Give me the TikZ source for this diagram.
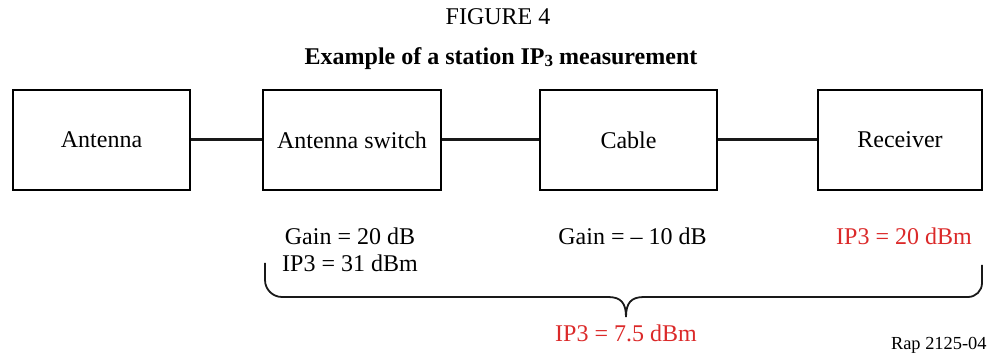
\documentclass[tikz,border=0pt]{standalone}
\usepackage{fontspec}
\setmainfont{Liberation Serif}
\definecolor{ipred}{rgb}{0.86,0.16,0.16}
\usetikzlibrary{positioning}
\tikzset{
  block/.style={rectangle, draw=black, line width=1pt, minimum height=50pt, text centered, font=\fontsize{12}{14}\selectfont},
  link/.style={line width=1.5pt, draw=black!90},
  spec/.style={anchor=base, inner sep=0pt, font=\fontsize{12}{14}\selectfont},
  result/.style={spec, text=ipred},
  bracket/.style={line width=0.9pt, draw=black!90}
}

\begin{document}
\begin{tikzpicture}[x=0.5pt, y=-0.5pt]

  \useasboundingbox (0,0) rectangle (989,356);

  % Titles
  \node (fig) [spec] at (498,25) {FIGURE 4};
  \node (title) [spec, font=\fontsize{12}{14}\selectfont\bfseries] at (501,65) {Example of a station IP\raisebox{-0.6pt}{\fontsize{8.5}{9}\selectfont 3} measurement};

  % Blocks of the chain
  \node (ant) [block, minimum width=88.5pt] at (101.5,140) {Antenna};
  \node (sw) [block, minimum width=89pt] at (352,140) {Antenna switch};
  \node (cab) [block, minimum width=88.5pt] at (628.5,140) {Cable};
  \node (rx) [block, minimum width=82pt] at (900,140) {Receiver};

  % Connections between blocks
  \draw [link] (ant) -- (sw);
  \draw [link] (sw) -- (cab);
  \draw [link] (cab) -- (rx);

  % Figures under each block
  \node (swgain) [spec] at (350,245) {Gain = 20 dB};
  \node (swip) [spec] at (350,271.5) {IP3 = 31 dBm};
  \node (cabgain) [spec] at (632.5,245) {Gain = -- 10 dB};
  \node (rxip) [result] at (904,245) {IP3 = 20 dBm};

  % Brace over switch, cable and receiver
  \draw [bracket, rounded corners=8.5pt] (265,263) |- (608,297);
  \draw [bracket] (608,297) .. controls (621,297) and (626,303) .. (626,317);
  \draw [bracket] (626,317) .. controls (626,303) and (631,297) .. (644,297);
  \draw [bracket, rounded corners=7pt] (644,297) -| (982,265);

  \node (total) [result] at (626,341.5) {IP3 = 7.5 dBm};

  \node (ref) [spec, anchor=base east, font=\fontsize{9.2}{11}\selectfont] at (987,350) {Rap 2125-04};

\end{tikzpicture}
\end{document}
